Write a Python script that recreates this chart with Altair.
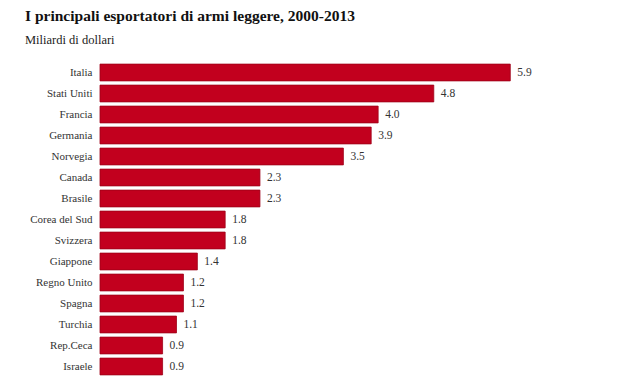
import altair as alt
import pandas as pd

countries = ["Italia", "Stati Uniti", "Francia", "Germania", "Norvegia", "Canada", "Brasile",
             "Corea del Sud", "Svizzera", "Giappone", "Regno Unito", "Spagna", "Turchia",
             "Rep.Ceca", "Israele"]
values = [5.9, 4.8, 4.0, 3.9, 3.5, 2.3, 2.3, 1.8, 1.8, 1.4, 1.2, 1.2, 1.1, 0.9, 0.9]

df = pd.DataFrame({"paese": countries, "valore": values})
df["label"] = df["valore"].map(lambda v: f"{v:.1f}")

FONT = "Liberation Serif"
RED = "#c2001e"

y = alt.Y("paese:N", sort=countries, title=None,
          scale=alt.Scale(paddingInner=0.2, paddingOuter=0.1),
          axis=alt.Axis(domain=False, ticks=False, labelPadding=8, labelFont=FONT,
                        labelFontSize=11, labelColor="#333333"))
x = alt.X("valore:Q", title=None, axis=None, scale=alt.Scale(domain=[0, 6.5], nice=False))

bars = alt.Chart(df).mark_bar(color=RED, stroke="#9e0018", strokeWidth=0.8).encode(x=x, y=y)
labels = alt.Chart(df).mark_text(align="left", baseline="middle", dx=7, font=FONT,
                                 fontSize=11.5, color="#333333").encode(x=x, y=y, text="label:N")

chart = (bars + labels).properties(
    width=452, height=315,
    autosize=alt.AutoSizeParams(type="none"),
    padding={"left": 92, "top": 54, "right": 0, "bottom": 0},
    title=alt.TitleParams(
        text="I principali esportatori di armi leggere, 2000-2013",
        subtitle="Miliardi di dollari",
        anchor="start", frame="group", dx=-75, offset=16,
        font=FONT, fontSize=15.5, fontWeight="bold", color="#111111",
        subtitleFont=FONT, subtitleFontSize=12.5, subtitleColor="#222222",
        subtitlePadding=9,
    ),
).configure_view(stroke=None)

chart.save("out.html", embed_options={"renderer": "svg", "actions": False})
